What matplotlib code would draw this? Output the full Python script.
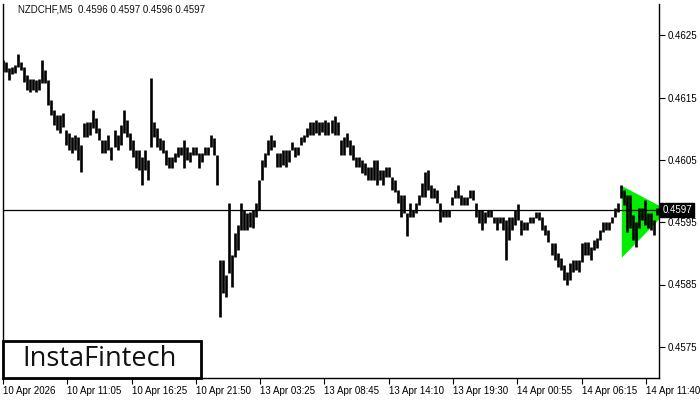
import matplotlib
matplotlib.use("Agg")
import matplotlib.pyplot as plt
import matplotlib.patches as patches
import numpy as np

plt.rcParams["font.family"] = ["Liberation Sans", "DejaVu Sans"]

# ---- data ----
symbol = "NZDCHF,M5"
last_ohlc = [0.4596, 0.4597, 0.4596, 0.4597]
current_price = 0.4597

# bar highs / lows, one sample every 3 five-minute bars
highs = [
    0.46210, 0.46207, 0.46197, 0.46199, 0.46202, 0.46220, 0.46207, 0.46199, 0.46186, 0.46179,
    0.46179, 0.46178, 0.46179, 0.46210, 0.46194, 0.46178, 0.46146, 0.46130, 0.46122, 0.46122,
    0.46125, 0.46098, 0.46093, 0.46086, 0.46090, 0.46086, 0.46074, 0.46109, 0.46111, 0.46111,
    0.46130, 0.46117, 0.46101, 0.46082, 0.46082, 0.46090, 0.46070, 0.46098, 0.46090, 0.46106,
    0.46130, 0.46114, 0.46093, 0.46082, 0.46066, 0.46066, 0.46054, 0.46066, 0.46050, 0.46181,
    0.46111, 0.46101, 0.46085, 0.46082, 0.46066, 0.46054, 0.46054, 0.46061, 0.46070, 0.46070,
    0.46082, 0.46070, 0.46062, 0.46070, 0.46070, 0.46061, 0.46061, 0.46070, 0.46070, 0.46090,
    0.46085, 0.46058, 0.45889, 0.45889, 0.45865, 0.45981, 0.45897, 0.45933, 0.45945, 0.45981,
    0.45969, 0.45965, 0.45966, 0.45969, 0.45981, 0.46018, 0.46050, 0.46061, 0.46082, 0.46090,
    0.46082, 0.46061, 0.46061, 0.46066, 0.46066, 0.46066, 0.46078, 0.46070, 0.46070, 0.46086,
    0.46090, 0.46101, 0.46111, 0.46111, 0.46114, 0.46111, 0.46111, 0.46114, 0.46111, 0.46114,
    0.46120, 0.46111, 0.46082, 0.46086, 0.46093, 0.46082, 0.46074, 0.46054, 0.46054, 0.46050,
    0.46045, 0.46038, 0.46038, 0.46050, 0.46050, 0.46034, 0.46034, 0.46038, 0.46038, 0.46022,
    0.46018, 0.46002, 0.45994, 0.45994, 0.45965, 0.45981, 0.45969, 0.45981, 0.45994, 0.46013,
    0.46030, 0.46034, 0.46010, 0.46005, 0.46002, 0.45981, 0.45969, 0.45969, 0.45969, 0.45990,
    0.46002, 0.46010, 0.45994, 0.45990, 0.45990, 0.46002, 0.46002, 0.45981, 0.45969, 0.45969,
    0.45966, 0.45969, 0.45969, 0.45958, 0.45958, 0.45958, 0.45958, 0.45953, 0.45958, 0.45958,
    0.45969, 0.45979, 0.45953, 0.45950, 0.45950, 0.45958, 0.45958, 0.45966, 0.45966, 0.45958,
    0.45945, 0.45937, 0.45917, 0.45917, 0.45901, 0.45893, 0.45881, 0.45870, 0.45885, 0.45889,
    0.45889, 0.45889, 0.45917, 0.45918, 0.45918, 0.45910, 0.45921, 0.45925, 0.45937, 0.45950,
    0.45950, 0.45950, 0.45958, 0.45973, 0.45981, 0.46010, 0.46002, 0.45994, 0.45994, 0.45961,
    0.45950, 0.45973, 0.45973, 0.45986, 0.45965, 0.45965, 0.45953, 0.45973,
]
lows = [
    0.46191, 0.46191, 0.46178, 0.46187, 0.46189, 0.46199, 0.46194, 0.46175, 0.46162, 0.46159,
    0.46162, 0.46159, 0.46162, 0.46173, 0.46173, 0.46138, 0.46122, 0.46106, 0.46098, 0.46093,
    0.46103, 0.46074, 0.46066, 0.46061, 0.46066, 0.46050, 0.46030, 0.46086, 0.46086, 0.46090,
    0.46101, 0.46093, 0.46082, 0.46061, 0.46061, 0.46066, 0.46050, 0.46070, 0.46066, 0.46074,
    0.46093, 0.46086, 0.46066, 0.46054, 0.46037, 0.46034, 0.46010, 0.46034, 0.46018, 0.46070,
    0.46086, 0.46070, 0.46066, 0.46061, 0.46042, 0.46037, 0.46037, 0.46046, 0.46054, 0.46058,
    0.46037, 0.46050, 0.46046, 0.46058, 0.46058, 0.46037, 0.46046, 0.46058, 0.46058, 0.46070,
    0.46058, 0.46010, 0.45798, 0.45836, 0.45830, 0.45868, 0.45846, 0.45894, 0.45905, 0.45937,
    0.45937, 0.45937, 0.45942, 0.45941, 0.45958, 0.45969, 0.46018, 0.46038, 0.46058, 0.46066,
    0.46070, 0.46038, 0.46038, 0.46042, 0.46038, 0.46046, 0.46066, 0.46054, 0.46058, 0.46074,
    0.46078, 0.46086, 0.46090, 0.46090, 0.46093, 0.46090, 0.46095, 0.46090, 0.46090, 0.46093,
    0.46090, 0.46090, 0.46058, 0.46058, 0.46070, 0.46058, 0.46050, 0.46038, 0.46038, 0.46029,
    0.46026, 0.46018, 0.46018, 0.46018, 0.46010, 0.46018, 0.46010, 0.46022, 0.46022, 0.46002,
    0.45998, 0.45981, 0.45958, 0.45965, 0.45928, 0.45958, 0.45958, 0.45965, 0.45977, 0.45990,
    0.45990, 0.46002, 0.45989, 0.45989, 0.45981, 0.45950, 0.45958, 0.45958, 0.45958, 0.45977,
    0.45989, 0.45989, 0.45977, 0.45977, 0.45977, 0.45989, 0.45986, 0.45958, 0.45949, 0.45937,
    0.45949, 0.45958, 0.45958, 0.45949, 0.45937, 0.45949, 0.45937, 0.45889, 0.45921, 0.45937,
    0.45945, 0.45953, 0.45929, 0.45937, 0.45937, 0.45949, 0.45949, 0.45957, 0.45953, 0.45937,
    0.45929, 0.45918, 0.45897, 0.45889, 0.45878, 0.45873, 0.45857, 0.45849, 0.45857, 0.45870,
    0.45873, 0.45870, 0.45886, 0.45897, 0.45897, 0.45889, 0.45905, 0.45909, 0.45921, 0.45934,
    0.45937, 0.45937, 0.45949, 0.45958, 0.45966, 0.45989, 0.45977, 0.45934, 0.45941, 0.45921,
    0.45910, 0.45941, 0.45953, 0.45945, 0.45941, 0.45937, 0.45929, 0.45961,
]
bar_step = 3

# symmetrical triangle pattern (bar index, price)
pattern_x = [616, 616, 662]
pattern_y = [0.46008, 0.45893, 0.45969]

# time axis labels, one every 64 bars
time_labels = ["10 Apr 2026", "10 Apr 11:05", "10 Apr 16:25", "10 Apr 21:50",
               "13 Apr 03:25", "13 Apr 08:45", "13 Apr 14:10", "13 Apr 19:30",
               "14 Apr 00:55", "14 Apr 06:15", "14 Apr 11:40"]
bars_per_label = 64
price_ticks = [0.4575, 0.4585, 0.4595, 0.4605, 0.4615, 0.4625]

# ---- figure ----
W, H = 700, 400
fig = plt.figure(figsize=(W / 100, H / 100), dpi=100)
fig.patch.set_facecolor("white")
ax = fig.add_axes([3 / W, 22 / H, 656 / W, 374 / H])
ax.set_facecolor("white")

xs = np.arange(len(highs)) * bar_step
ax.fill(pattern_x, pattern_y, color="#00ee00", lw=0, zorder=1)
ax.vlines(xs, lows, highs, color="black", linewidth=1.9, zorder=2)
ax.axhline(current_price, color="black", lw=0.9, zorder=3)

ax.set_xlim(0, 653)
ax.set_ylim(0.4570, 0.4630)

ax.spines["top"].set_visible(False)
for s in ["left", "right", "bottom"]:
    ax.spines[s].set_color("black")
    ax.spines[s].set_linewidth(1.0)

ax.set_xticks([i * bars_per_label for i in range(len(time_labels))])
ax.set_xticklabels(time_labels)
for lbl in ax.get_xticklabels():
    lbl.set_horizontalalignment("left")
ax.tick_params(axis="x", direction="out", length=4, width=0.8, pad=2,
               labelsize=7, colors="black")

ax.yaxis.tick_right()
ax.set_yticks(price_ticks)
ax.set_yticklabels([f"{p:.4f}" for p in price_ticks])
ax.tick_params(axis="y", direction="out", length=4, width=0.8, pad=2,
               labelsize=7, colors="black")

# current price label
ax.text(1.005, current_price, f"{current_price:.4f}",
        transform=ax.get_yaxis_transform(), ha="left", va="center",
        fontsize=7, color="white", zorder=5,
        bbox=dict(boxstyle="square,pad=0.2", facecolor="black", edgecolor="black"))

# title
ax.text(15 / 656, 1 - 6 / 374,
        f"{symbol}  " + " ".join(f"{v:.4f}" for v in last_ohlc),
        transform=ax.transAxes, ha="left", va="center", fontsize=7, color="#111111")

# logo
fig.patches.append(patches.Rectangle((3 / W, 22 / H), 198 / W, 37 / H,
                                     transform=fig.transFigure, facecolor="white",
                                     edgecolor="black", linewidth=2.0, zorder=10))
fig.text(100 / W, (H - 359) / H, "InstaFintech", ha="center", va="center",
         fontsize=19.5, color="#111111", family="Open Sans", zorder=11)

fig.savefig("out.png", dpi=100, facecolor="white")
